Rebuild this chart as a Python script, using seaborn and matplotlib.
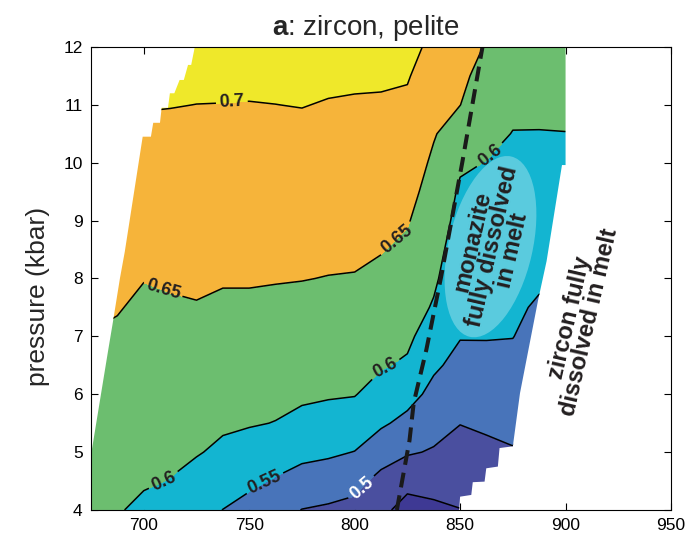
import numpy as np
import matplotlib
matplotlib.use("Agg")
import matplotlib.pyplot as plt
import seaborn as sns
from matplotlib.patches import Polygon, Ellipse
from matplotlib.transforms import ScaledTranslation

# ---- grid of the contoured quantity (temperature in C, pressure in kbar) ----
temperature = [675, 687.5, 700, 712.5, 725, 737.5, 750, 762.5, 775, 787.5,
               800, 812.5, 825, 837.5, 850, 862.5, 875, 887.5, 900]
pressure = [4.0, 4.5, 5.0, 5.5, 6.0, 6.5, 7.0, 7.5, 8.0, 8.5,
            9.0, 9.5, 10.0, 10.5, 11.0, 11.5, 12.0]

# one column of values per temperature, listed from 4 to 12 kbar
z_675 = [0.607, 0.614, 0.621, 0.628, 0.635, 0.642, 0.649, 0.655, 0.662, 0.669, 0.676, 0.682, 0.689, 0.696, 0.703, 0.710, 0.716]
z_687 = [0.603, 0.610, 0.617, 0.624, 0.631, 0.638, 0.645, 0.652, 0.659, 0.666, 0.674, 0.681, 0.688, 0.695, 0.702, 0.709, 0.716]
z_700 = [0.592, 0.604, 0.611, 0.617, 0.624, 0.631, 0.637, 0.644, 0.651, 0.660, 0.668, 0.676, 0.685, 0.693, 0.702, 0.710, 0.719]
z_712 = [0.578, 0.599, 0.607, 0.615, 0.623, 0.630, 0.638, 0.646, 0.654, 0.662, 0.670, 0.677, 0.685, 0.693, 0.701, 0.709, 0.717]
z_725 = [0.565, 0.585, 0.603, 0.612, 0.621, 0.630, 0.639, 0.648, 0.656, 0.663, 0.670, 0.678, 0.685, 0.693, 0.6998, 0.707, 0.715]
z_737 = [0.5495, 0.571, 0.592, 0.606, 0.616, 0.625, 0.635, 0.644, 0.653, 0.661, 0.668, 0.676, 0.684, 0.692, 0.6995, 0.707, 0.715]
z_750 = [0.535, 0.559, 0.583, 0.603, 0.613, 0.624, 0.634, 0.644, 0.653, 0.661, 0.669, 0.676, 0.684, 0.692, 0.699, 0.707, 0.715]
z_762 = [0.517, 0.546, 0.573, 0.599, 0.610, 0.621, 0.631, 0.642, 0.652, 0.660, 0.668, 0.676, 0.684, 0.692, 0.6998, 0.708, 0.716]
z_775 = [0.499, 0.532, 0.562, 0.589, 0.607, 0.618, 0.629, 0.640, 0.651, 0.659, 0.667, 0.676, 0.684, 0.692, 0.701, 0.709, 0.717]
z_787 = [0.493, 0.526, 0.557, 0.583, 0.604, 0.615, 0.627, 0.638, 0.649, 0.658, 0.666, 0.674, 0.682, 0.690, 0.698, 0.707, 0.715]
z_800 = [0.487, 0.514, 0.549, 0.577, 0.602, 0.613, 0.625, 0.637, 0.648, 0.657, 0.665, 0.673, 0.681, 0.689, 0.697, 0.705, 0.713]
z_812 = [0.460, 0.487, 0.520, 0.557, 0.582, 0.604, 0.616, 0.629, 0.641, 0.652, 0.661, 0.670, 0.679, 0.687, 0.696, 0.705, 0.713]
z_825 = [0.435, 0.462, 0.505, 0.537, 0.567, 0.594, 0.609, 0.620, 0.631, 0.642, 0.653, 0.663, 0.673, 0.683, 0.693, 0.703, 0.713]
z_837 = [0.440, 0.468, 0.496, 0.517, 0.537, 0.557, 0.576, 0.596, 0.607, 0.616, 0.625, 0.634, 0.643, 0.653, 0.665, 0.678, 0.690]
z_850 = [0.449, 0.466, 0.484, 0.501, 0.519, 0.537, 0.552, 0.560, 0.569, 0.577, 0.586, 0.594, 0.606, 0.628, 0.6505, 0.659, 0.669]
z_862 = [0.455, 0.473, 0.490, 0.507, 0.522, 0.538, 0.552, 0.560, 0.567, 0.575, 0.583, 0.591, 0.599, 0.610, 0.622, 0.635, 0.647]
z_875 = [0.470, 0.484, 0.497, 0.511, 0.524, 0.537, 0.551, 0.557, 0.564, 0.571, 0.578, 0.585, 0.592, 0.599, 0.607, 0.616, 0.625]
z_887 = [0.475, 0.482, 0.488, 0.495, 0.506, 0.519, 0.532, 0.545, 0.556, 0.564, 0.573, 0.582, 0.590, 0.599, 0.606, 0.613, 0.620]
z_900 = [0.480, 0.490, 0.500, 0.510, 0.519, 0.528, 0.537, 0.546, 0.555, 0.564, 0.573, 0.582, 0.591, 0.5995, 0.606, 0.611, 0.617]

levels = [0.40, 0.45, 0.50, 0.55, 0.60, 0.65, 0.70, 0.75]
fill_colors = ["#3e3994", "#4a4f9f", "#4874ba", "#13b5d1",
               "#6cbe6f", "#f6b43a", "#efe82a"]
dark_label_levels = [0.55, 0.60, 0.65, 0.70]
white_label_levels = [0.50]
unlabelled_levels = [0.45]

# stability field outline (left: solidus side, right: zircon-out side)
left_T = [675, 675, 683, 685.3, 688.7, 691, 699.5, 703.4, 704.5, 707.7, 708.5,
          711.5, 712.4, 714.5, 717, 719, 721, 722.5, 724.2]
left_P = [4.0, 4.95, 6.73, 7.23, 8.0, 8.46, 10.45, 10.45, 10.69, 10.69, 10.95,
          10.95, 11.2, 11.2, 11.43, 11.43, 11.69, 11.69, 12.0]
right_T = [900, 900, 898.3, 891, 887, 878.4, 875, 868.7, 867.9, 862.4, 861.6,
           856, 855.3, 850, 849.5]
right_P = [12.0, 9.96, 9.96, 8.3, 7.63, 6.02, 5.1, 5.07, 4.75, 4.72, 4.49,
           4.48, 4.26, 4.23, 4.0]

# monazite-out curve
mnz_T = [820, 826, 828, 834, 841, 851, 860.6]
mnz_P = [4.0, 5.2, 5.85, 6.77, 8.03, 10.0, 12.0]

# contour label anchors
label_T = [741.8, 710, 821.3, 864, 815, 710, 757.4]
label_P = [11.02, 7.92, 8.6, 10.13, 6.39, 4.44, 4.47]
white_label_T = [803.8]
white_label_P = [4.35]

sns.set_theme(style="ticks")
plt.rcParams["font.family"] = ["Liberation Sans", "DejaVu Sans"]
plt.rcParams["mathtext.fontset"] = "custom"
plt.rcParams["mathtext.rm"] = "Liberation Sans"
plt.rcParams["mathtext.bf"] = "Liberation Sans:bold"

fig = plt.figure(figsize=(6.89, 5.40), dpi=100)
ax = fig.add_axes([0.1321, 0.0556, 0.8418, 0.8574])

Z = np.column_stack([z_675, z_687, z_700, z_712, z_725, z_737, z_750, z_762,
                     z_775, z_787, z_800, z_812, z_825, z_837, z_850, z_862,
                     z_875, z_887, z_900])

domain = Polygon(np.column_stack([left_T + right_T, left_P + right_P]),
                 closed=True, transform=ax.transData,
                 facecolor="none", edgecolor="none")

cf = ax.contourf(temperature, pressure, Z, levels=levels, colors=fill_colors)
cf.set_clip_path(domain)

line_sets = []
for lv in (unlabelled_levels, white_label_levels, dark_label_levels):
    cs = ax.contour(temperature, pressure, Z, levels=lv,
                    colors="black", linewidths=1.1)
    cs.set_clip_path(domain)
    line_sets.append(cs)

dark_txt = ax.clabel(line_sets[2], inline=True, inline_spacing=7, fontsize=13,
                     fmt="%g", colors="#231f20",
                     manual=list(zip(label_T, label_P)))
white_txt = ax.clabel(line_sets[1], inline=True, inline_spacing=7, fontsize=13,
                      fmt="%g", colors="white",
                      manual=list(zip(white_label_T, white_label_P)))
for t in list(dark_txt) + list(white_txt):
    t.set_fontweight("bold")

# light patch where monazite is fully dissolved
ell = Ellipse((0, 0), width=1.85, height=0.84, angle=77,
              facecolor="white", alpha=0.3, edgecolor="none",
              transform=fig.dpi_scale_trans + ScaledTranslation(864.4, 8.55, ax.transData))
ax.add_patch(ell)

sns.lineplot(x=mnz_T, y=mnz_P, ax=ax, sort=False, estimator=None,
             color="#1a1a1a", linewidth=2.9, linestyle=(0, (3.7, 2.0)))

ax.text(865.3, 8.56, "monazite\nfully dissolved\nin melt", rotation=77,
        rotation_mode="anchor", ha="center", va="center", multialignment="center",
        fontsize=17, fontweight="bold", color="#231f20", linespacing=0.85)
ax.text(906.5, 7.28, "zircon fully\ndissolved in melt", rotation=77,
        rotation_mode="anchor", ha="center", va="center", multialignment="center",
        fontsize=17, fontweight="bold", color="#231f20", linespacing=0.85)

ax.set_xlim(675, 950)
ax.set_ylim(4, 12)
ax.set_xticks([700, 750, 800, 850, 900, 950])
ax.set_yticks(range(4, 13))
ax.tick_params(direction="in", top=True, right=True, length=5, width=0.8,
               labelsize=12.5, colors="black", pad=6)
for s in ax.spines.values():
    s.set_color("black")
    s.set_linewidth(0.8)

ax.set_ylabel("pressure (kbar)", fontsize=19)
ax.yaxis.set_label_coords(-0.07, 0.462)

fig.text(0.531, 0.935, r"$\mathbf{a}$: zircon, pelite", ha="center",
         va="baseline", fontsize=20)

fig.savefig("out.png", dpi=100)
